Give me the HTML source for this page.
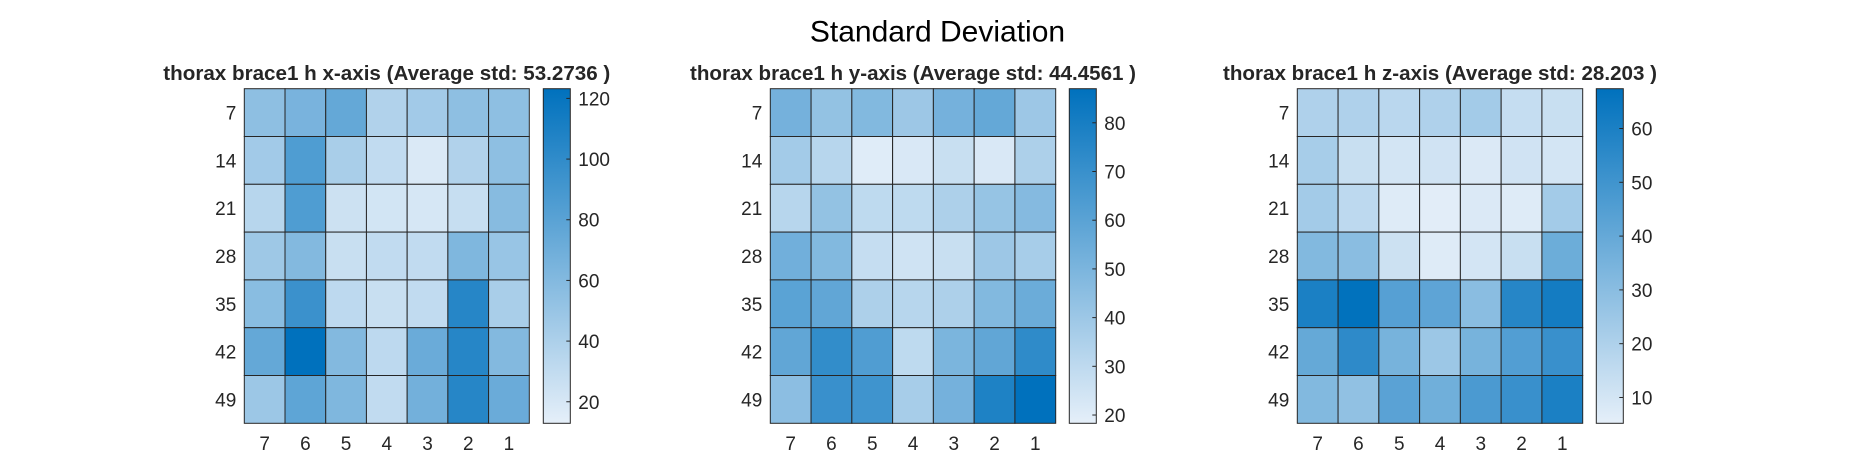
<!DOCTYPE html>
<html><head><meta charset="utf-8"><style>
html,body{margin:0;padding:0;background:#fff;}
svg{display:block;font-family:"Liberation Sans",Arial,sans-serif;}
</style></head><body>
<svg id="fig" width="1875" height="469" viewBox="0 0 1875 469" xmlns="http://www.w3.org/2000/svg">
<rect width="1875" height="469" fill="#fff"/>
<text x="937.5" y="41.5" font-size="30" text-anchor="middle" fill="#000">Standard Deviation</text>
</svg>
<script>
// Shared axis categories
const xCategories = ["7","6","5","4","3","2","1"];
const yCategories = ["7","14","21","28","35","42","49"];

// Panel titles
const panelTitles = [
  "thorax brace1 h x-axis (Average std: 53.2736 )",
  "thorax brace1 h y-axis (Average std: 44.4561 )",
  "thorax brace1 h z-axis (Average std: 28.203 )"
];

// Heatmap values (rows = yCategories, cols = xCategories)
const xAxisValues = [
  [55, 65, 75, 38, 45, 55, 55],
  [45, 85, 42, 30, 18, 38, 55],
  [35, 85, 25, 22, 20, 28, 58],
  [47, 60, 27, 30, 30, 62, 50],
  [57, 95, 32, 27, 30, 105, 42],
  [75, 123, 60, 32, 72, 105, 60],
  [48, 78, 62, 30, 68, 105, 72]
];
const yAxisValues = [
  [52, 43, 48, 40, 52, 57, 40],
  [38, 32, 20, 22, 27, 22, 35],
  [32, 43, 30, 30, 35, 42, 47],
  [53, 48, 28, 25, 27, 40, 37],
  [60, 58, 35, 32, 35, 48, 55],
  [58, 72, 63, 30, 50, 58, 73],
  [45, 70, 68, 37, 52, 78, 87]
];
const zAxisValues = [
  [20, 20, 17, 20, 23, 14, 13],
  [22, 13, 10, 11, 8, 11, 10],
  [23, 16, 7, 6, 8, 7, 23],
  [32, 30, 12, 7, 10, 13, 38],
  [60, 67, 44, 42, 30, 57, 62],
  [40, 55, 35, 25, 35, 45, 52],
  [32, 28, 43, 37, 47, 52, 60]
];

// Colorbar tick labels
const xAxisTicks = [20, 40, 60, 80, 100, 120];
const yAxisTicks = [20, 30, 40, 50, 60, 70, 80];
const zAxisTicks = [10, 20, 30, 40, 50, 60];

// Colorbar limits
const xAxisLimits = [12.9, 123.2];
const yAxisLimits = [18.3, 87.0];
const zAxisLimits = [5.2, 67.4];

const NS = "http://www.w3.org/2000/svg";
const svg = document.getElementById("fig");
function mk(tag, attrs, parent) {
  const e = document.createElementNS(NS, tag);
  for (const k in attrs) e.setAttribute(k, attrs[k]);
  (parent || svg).appendChild(e);
  return e;
}
const lo = [229, 239, 249], hi = [0, 113, 189];
function colorFor(t) {
  t = Math.max(0, Math.min(1, t));
  const c = lo.map((v, i) => Math.round(v + (hi[i] - v) * t));
  return "rgb(" + c.join(",") + ")";
}

const panels = [
  { left: 244.3, right: 529.3, cbL: 543.3, cbR: 570.3, vals: xAxisValues, ticks: xAxisTicks, lim: xAxisLimits, name: "x-axis", tw: 447 },
  { left: 770.3, right: 1055.7, cbL: 1069.3, cbR: 1096.3, vals: yAxisValues, ticks: yAxisTicks, lim: yAxisLimits, name: "y-axis", tw: 446 },
  { left: 1297.3, right: 1582.7, cbL: 1596.3, cbR: 1623.3, vals: zAxisValues, ticks: zAxisTicks, lim: zAxisLimits, name: "z-axis", tw: 434 }
];
const plotTop = 88.7, plotBottom = 423.3;

panels.forEach((p, pi) => {
  const g = mk("g", {});
  
  
  const cw = (p.right - p.left) / xCategories.length;
  const ch = (plotBottom - plotTop) / yCategories.length;
  const xScale = i => p.left + i * cw;
  const yScale = j => plotTop + j * ch;
  const cScale = v => (v - p.lim[0]) / (p.lim[1] - p.lim[0]);

  const title = mk("text", { x: (p.left + p.right) / 2, y: 80, "font-size": 20, "font-weight": "bold", "text-anchor": "middle", fill: "#262626", textLength: p.tw, lengthAdjust: "spacingAndGlyphs" }, g);
  
  
  title.textContent = panelTitles[pi];

  p.vals.forEach((row, j) => {
    row.forEach((v, i) => {
      const r = mk("rect", { x: xScale(i), y: yScale(j), width: cw, height: ch, fill: colorFor(cScale(v)), stroke: "#262626", "stroke-width": 1 }, g);
      
      
    });
  });

  yCategories.forEach((lab, j) => {
    const t = mk("text", { x: p.left - 8, y: yScale(j) + ch / 2 + 7, "font-size": 19, "text-anchor": "end", fill: "#262626" }, g);
    
    
    t.textContent = lab;
  });
  xCategories.forEach((lab, i) => {
    const t = mk("text", { x: xScale(i) + cw / 2, y: 450, "font-size": 19, "text-anchor": "middle", fill: "#262626" }, g);
    
    
    t.textContent = lab;
  });

  const cb = mk("g", {});
  
  
  const gid = "grad" + pi;
  const defs = mk("defs", {}, cb);
  const lg = mk("linearGradient", { id: gid, x1: 0, y1: 1, x2: 0, y2: 0 }, defs);
  mk("stop", { offset: 0, "stop-color": colorFor(0) }, lg);
  mk("stop", { offset: 1, "stop-color": colorFor(1) }, lg);
  const bar = mk("rect", { x: p.cbL, y: plotTop, width: p.cbR - p.cbL, height: plotBottom - plotTop, fill: "url(#" + gid + ")", stroke: "#262626", "stroke-width": 1 }, cb);
  
  
  const cy = v => plotBottom - (v - p.lim[0]) / (p.lim[1] - p.lim[0]) * (plotBottom - plotTop);
  p.ticks.forEach(v => {
    const y = cy(v);
    mk("line", { x1: p.cbR - 4, x2: p.cbR, y1: y, y2: y, stroke: "#262626", "stroke-width": 1 }, cb);
    const t = mk("text", { x: p.cbR + 8, y: y + 7, "font-size": 19, fill: "#262626" }, cb);
    
    
    t.textContent = v;
  });
});
</script>
</body></html>
